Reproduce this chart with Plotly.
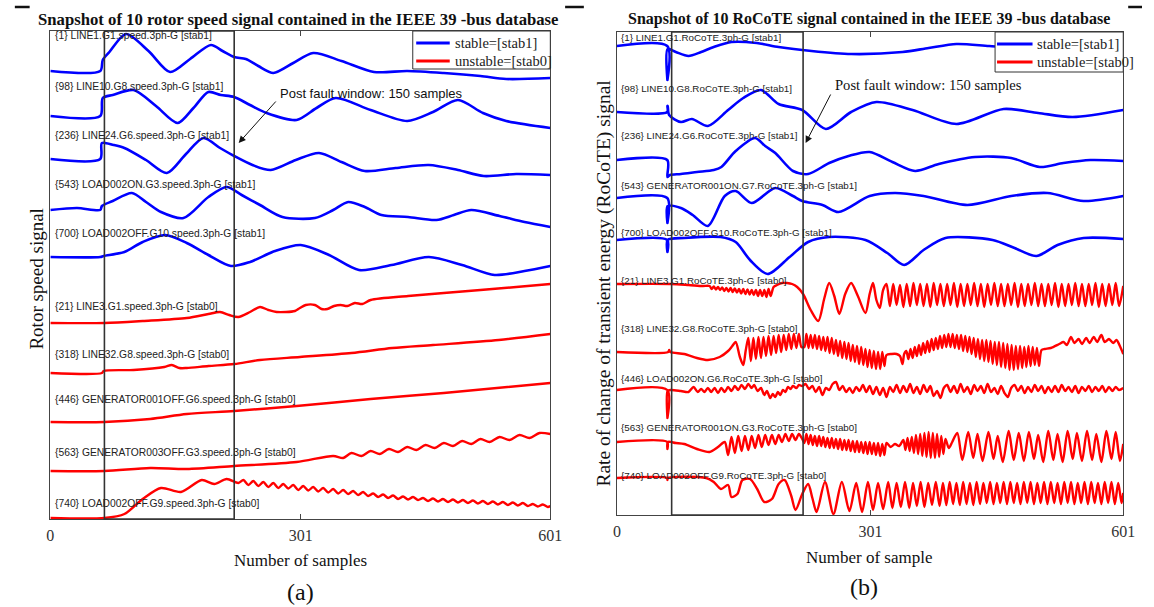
import plotly.graph_objects as go

FIG_W, FIG_H = 1154, 607

# ---------------- shared axis data ----------------
X_TICKS = [0, 301, 601]
WINDOW = [65, 221]          # post-fault window (samples)

# ---------------- panel (a): rotor speed ----------------
labels_a = [
    "{1} LINE1.G1.speed.3ph-G [stab1]",
    "{98} LINE10.G8.speed.3ph-G [stab1]",
    "{236} LINE24.G6.speed.3ph-G [stab1]",
    "{543} LOAD002ON.G3.speed.3ph-G [stab1]",
    "{700} LOAD002OFF.G10.speed.3ph-G [stab1]",
    "{21} LINE3.G1.speed.3ph-G [stab0]",
    "{318} LINE32.G8.speed.3ph-G [stab0]",
    "{446} GENERATOR001OFF.G6.speed.3ph-G [stab0]",
    "{563} GENERATOR003OFF.G3.speed.3ph-G [stab0]",
    "{740} LOAD002OFF.G9.speed.3ph-G [stab0]",
]
stable_a = [1, 1, 1, 1, 1, 0, 0, 0, 0, 0]
offsets_a = [448, 403, 360, 309, 262, 196, 146, 97, 48, 1]   # stacking levels

a_1 = [(0,0),(60,0),(63,11),(71,19),(91,37),(118,20),(144,-1),(168,12),(193,26),(207,20),(221,14),(235,12),
       (250,5),(268,-2),(292,8),(316,18),(350,10),(389,-1),(429,0),(473,-2),(517,-5),(548,-8),(601,-7)]
a_98 = [(0,0),(60,0),(63,18),(75,21),(100,26),(127,10),(153,-7),(172,8),(190,24),(205,21),(221,19),(240,11),
        (260,3),(296,-4),(320,8),(343,18),(385,6),(429,-5),(460,4),(490,16),(520,3),(548,-5),(601,-12)]
a_236 = [(0,0),(60,0),(62,16),(76,14),(89,11),(115,-1),(140,-14),(162,4),(184,21),(204,11),(221,3),(243,-6),
         (265,-11),(295,-1),(323,6),(350,-3),(378,-12),(415,-9),(455,-6),(490,-11),(521,-17),(560,-15),(601,-16)]
a_543 = [(0,0),(32,2),(60,0),(62,4),(75,9),(98,17),(115,8),(133,-2),(160,-8),(190,13),(212,23),(230,15),
         (252,5),(279,-7),(318,-8),(340,0),(358,8),(378,3),(398,-5),(430,-7),(464,-10),(485,-5),(506,0),
         (540,-6),(570,-12),(601,-17)]
a_700 = [(0,0),(60,0),(64,1),(89,5),(111,15),(138,22),(164,14),(190,2),(217,-9),(240,-5),(270,6),(301,12),
         (335,2),(371,-13),(410,-8),(455,0),(495,-8),(534,-18),(570,-14),(601,-9)]
a_21 = [(0,0),(65,0),(111,2),(164,5),(190,9),(204,11),(215,8),(226,6),(240,11),(252,16),(262,13),(272,11),
        (294,12),(300,15),(307,18),(318,18),(326,14),(333,14),(341,17),(349,18),(357,17),(366,20),(375,19),
        (385,23),(430,27),(473,30),(517,33),(560,36),(601,39)]
a_318 = [(0,0),(62,0),(64,2),(100,3),(137,6),(146,8),(155,5),(164,5),(190,7),(221,9),(252,13),(300,16),
         (362,20),(411,25),(460,28),(539,33),(601,39)]
a_446 = [(0,0),(65,0),(120,3),(164,8),(221,11),(296,16),(385,23),(473,29),(601,39)]
a_563 = [(0,0),(65,0),(120,3),(164,2),(221,5),(296,9),(340,15),(352,13),(362,18),(374,15),(385,20),(396,17),
         (407,22),(418,19),(429,24),(440,21),(451,26),(462,23),(473,28),(484,25),(495,30),(506,27),(517,32),
         (528,29),(540,34),(552,31),(564,36),(576,33),(588,38),(601,37)]
a_740 = [(0,0),(65,0),(89,4),(111,19),(133,30),(157,26),(182,38),(197,34),(212,39),(226,35),
         (232,38),(238,33),(244,37),(250,32),(256,36),(262,31),(268,35),(274,30),(280,34),(286,29.5),
         (292,33),(298,28),(304,32),(310,27.5),(316,31),(322,26.5),(328,30),(334,25.5),(340,29),(346,24.5),
         (352,28),(358,24),(364,27),(370,23),(376,26),(382,22),(388,24.5),(394,21),(400,23.5),(406,20),
         (412,22.5),(418,19),(424,21.5),(430,18.5),(436,21),(442,18),(448,20),(454,17),(460,19.5),(466,16.5),
         (472,19),(478,16),(484,18.5),(490,15.5),(496,18),(502,15),(508,17.5),(514,14.5),(520,17),(526,14),
         (532,16.5),(538,13.5),(544,16),(550,13),(556,15.5),(562,12.5),(568,15),(574,12),(580,14),(586,11.5),
         (592,13.5),(598,11),(601,12)]
series_a = [a_1, a_98, a_236, a_543, a_700, a_21, a_318, a_446, a_563, a_740]
label_y_a = [484, 433, 384, 335, 286, 213, 165, 120, 67, 16]

# ---------------- panel (b): RoCoTE ----------------
labels_b = [
    "{1} LINE1.G1.RoCoTE.3ph-G [stab1]",
    "{98} LINE10.G8.RoCoTE.3ph-G [stab1]",
    "{236} LINE24.G6.RoCoTE.3ph-G [stab1]",
    "{543} GENERATOR001ON.G7.RoCoTE.3ph-G [stab1]",
    "{700} LOAD002OFF.G10.RoCoTE.3ph-G [stab1]",
    "{21} LINE3.G1.RoCoTE.3ph-G [stab0]",
    "{318} LINE32.G8.RoCoTE.3ph-G [stab0]",
    "{446} LOAD002ON.G6.RoCoTE.3ph-G [stab0]",
    "{563} GENERATOR001ON.G3.RoCoTE.3ph-G [stab0]",
    "{740} LOAD002OFF.G9.RoCoTE.3ph-G [stab0]",
]
stable_b = [1, 1, 1, 1, 1, 0, 0, 0, 0, 0]
offsets_b = [469, 403, 355, 317, 275, 231, 163, 125, 73, 37]

b_1 = [(0,0),(59.8,0),(60,-34),(60.2,-3),(70,-6),(85,-10),(100,-6),(115,-1),(136,4),(166,3),(192,-1),(231,-5),
       (278,-8),(339,-6),(370,-2),(403,2),(442,0),(511,-4),(601,-1)]
b_98 = [(0,0),(59.8,0),(60,6),(60.3,6),(62,-3),(76,-10),(89,-7),(108,-14),(132,2),(150,14),(171,22),(192,8),
        (220,2),(248,-17),(278,0),(308,10),(351,2),(403,-12),(459,3),(500,-1),(541,-5),(601,2)]
b_236 = [(0,0),(59.8,0),(60,-17),(63,-15),(76,-14),(95,-12),(115,-10),(124,-7),(141,9),(164,22),(176,14),(188,7),
         (209,-11),(227,-14),(252,-3),(275,4),(300,8),(327,-2),(354,-11),(382,-4),(425,3),(468,2),(502,-7),
         (530,-3),(562,0),(601,-1)]
b_543 = [(0,0),(59.8,0),(60,-25),(60.3,-8),(76,-10),(90,-17),(108,-28),(128,2),(141,7),(160,-5),(188,10),(209,2),
         (220,-3),(244,-7),(263,-14),(300,2),(330,5),(364,2),(416,-7),(468,2),(511,5),(554,-3),(601,2)]
b_700 = [(0,0),(59.8,0),(60,-12),(60.2,0),(80,2),(123,3),(141,-2),(158,-20),(179,-34),(205,-17),(227,-2),(252,3),
         (295,0),(321,-13),(341,-25),(364,-10),(390,2),(446,0),(472,-8),(498,-16),(523,-5),(554,2),(601,1)]
b_21 = [(0,0),(64,0),(85,-1),(102,-2),(110,-2),(112.5,-5),(115,-2.5),(117.5,-5.5),(120,-3),(122.5,-6),(125,-3.5),
        (127.5,-7),(130,-4),(132.5,-7.5),(135,-4),(137.5,-8),(140,-4.5),(142.5,-8.5),(145,-5),(147.5,-9.5),
        (150,-5),(152.5,-10),(155,-5.5),(157.5,-10.5),(160,-6),(162.5,-11),(165,-6),(167.5,-12),(170,-6),
        (172.5,-12),(175,-6),(177.5,-13),(180,-5),(182.5,-12),(186,-3),(190,-1),(196,1),(202,1),(208,0),
        (214,-3),(221,-10),(230,-26),(239,-37),(246,-15),(252,1),(258,-12),(264,-30),(271,-10),(278,1),
        (286,-12),(295,-29),(300,-10),(304,1),(308,-16),(312,-24),(316,-6),(320,0),(324,-22),(328,0),(332,-21),
        (336,-1),(340,-23),(344,0),(348,-22),(352,1),(356,-21),(360,0),(364,-22),(368,0),(372,-23),(376,1),
        (380,-21),(384,0),(388,-22),(392,0),(396,-21),(400,1),(404,-23),(408,0),(412,-22),(416,0),(420,-21),
        (424,1),(428,-22),(432,0),(436,-23),(440,0),(444,-21),(448,1),(452,-22),(456,0),(460,-22),(464,0),
        (468,-21),(472,1),(476,-23),(480,0),(484,-22),(488,0),(492,-21),(496,1),(500,-22),(504,0),(508,-22),
        (512,0),(516,-21),(520,1),(524,-23),(528,0),(532,-22),(536,0),(540,-21),(544,1),(548,-22),(552,0),
        (556,-22),(560,0),(564,-21),(568,1),(572,-23),(576,0),(580,-22),(584,0),(588,-21),(592,1),(596,-22),
        (601,-2)]
b_318 = [(0,0),(61,0),(62,2),(63.5,0),(80,-2),(95,-6),(108,-8),(122,-5),(132,1),(137,6),(141,10),(146,-5),
         (150,-13),(153,2),(156,14),(159,-9),(162,14),(165,-7),(168,15),(171,-6),(174,15),(177,-4),(180,16),
         (183,-3),(186,16),(189,-1),(192,17),(195,0),(198,17),(201,2),(204,18),(207,3),(210,18),(213,4),
         (216,18),(219,5),(222.5,5),(225,18),(227.5,4),(230,17),(232.5,4),(235,17),(237.5,3),(240,16),
         (242.5,2),(245,15),(247.5,1),(250,15),(252.5,-1),(255,14),(257.5,-2),(260,12),(262.5,-4),(265,11),
         (267.5,-6),(270,10),(272.5,-7),(275,9),(277.5,-9),(280,7),(282.5,-10),(285,6),(287.5,-12),(290,5),
         (292.5,-13),(295,3),(297.5,-15),(300,2),(302.5,-16),(305,1),(307.5,-17),(310,0),(312.5,-17),(315,0),
         (317.5,-14),(320,-3),(326,-2),(332,-2),(336,-4),(339,-12),(341,-2),(343.5,1),(346,-7),(348.5,3),
         (351,-6),(353.5,5),(356,-4),(358.5,7),(361,-3),(363.5,9),(366,-1),(368.5,11),(371,0),(373.5,13),
         (376,2),(378.5,14),(381,3),(383.5,16),(386,4),(388.5,17),(391,5),(393.5,18),(396,5),(398.5,18),
         (401,4),(403.5,17),(406,3),(408.5,17),(411,1),(413.5,16),(416,0),(418.5,15),(421,-2),(423.5,14),
         (426,-5),(428.5,13),(431,-7),(433.5,12),(436,-9),(438.5,12),(441,-10),(443.5,11),(446,-12),(448.5,10),
         (451,-13),(453.5,10),(456,-15),(458.5,9),(461,-16),(463.5,8),(466,-18),(468.5,7),(471,-18),(473.5,6),
         (476,-17),(478.5,6),(481,-16),(483.5,5),(486,-15),(488.5,6),(491,-14),(493.5,5),(496,-13),(498.5,4),
         (501,-14),(504,2),(508,3),(515,4),(525,8),(530,10),(534,7),(539,15),(543,9),(548,13),(552,8),(557,14),
         (561,9),(566,15),(570,10),(575,17),(579,10),(584,13),(589,9),(593,12),(597,6),(601,-2)]
b_446 = [(0,0),(59.8,0),(60,-28),(60.2,-1),(64,0),(76,-1),(85,-2),(91,3),(96,-2),(100,1),(104,-2),(108,2),
         (112,-2),(116,2),(120,-3),(124,2),(128,-2),(132,3),(136,-1),(140,4),(144,0),(148,5),(152,1),(156,6),
         (160,2),(163,5),(167,-1),(171,2),(175,-5),(178,-1),(182,-8),(185,-4),(188,-7),(191,-2),(194,-5),
         (197,0),(200,-2),(203,3),(206,1),(209,4),(213,2),(216,5),(220,4),(224,6),(228,1),(232,4),(236,-2),
         (240,3),(244,-5),(248,2),(252,0),(256,6),(260,8),(264,0),(268,4),(272,-2),(276,2),(280,-3),(284,3),
         (288,-1),(292,5),(296,-2),(300,4),(304,-4),(308,3),(312,-5),(316,2),(320,-7),(324,3),(328,-2),(332,5),
         (336,-3),(340,4),(344,-2),(348,6),(352,-3),(356,3),(360,-4),(364,5),(368,-2),(372,4),(376,-6),(380,-1),
         (384,-8),(388,2),(392,5),(396,-2),(400,4),(404,-3),(408,6),(412,-2),(416,3),(420,-4),(424,5),(428,-1),
         (432,4),(436,-3),(440,6),(444,-2),(448,2),(452,-4),(456,4),(460,-3),(464,-7),(468,2),(472,5),(476,-1),
         (480,4),(484,-3),(488,3),(492,-2),(496,5),(500,-1),(504,4),(508,-3),(512,3),(516,-2),(520,4),(524,-2),
         (528,5),(532,-1),(536,3),(540,-2),(544,4),(548,-3),(552,3),(556,-1),(560,4),(564,-2),(568,3),(572,-1),
         (576,4),(580,-2),(584,3),(588,-1),(592,3),(596,0),(601,2)]
b_563 = [(0,0),(59.8,0),(60,-7),(60.3,0),(70,-1),(80,-2),(95,-7),(110,-10),(120,-5),(128,0),(132,-13),(136,5),
         (140,-11),(144,6),(148,-9),(152,6),(156,-8),(160,6),(164,-6),(168,7),(172,-5),(176,7),(180,-3),(184,7),
         (188,-2),(192,7),(196,0),(200,8),(204,1),(208,8),(212,2),(216,8),(220,3),(222.5,-1),(225,8),(227.5,-2),
         (230,7),(232.5,-3),(235,6),(237.5,-4),(240,6),(242.5,-4),(245,5),(247.5,-5),(250,4),(252.5,-6),(255,4),
         (257.5,-6),(260,3),(262.5,-7),(265,3),(267.5,-8),(270,2),(272.5,-8),(275,2),(277.5,-9),(280,1),
         (282.5,-10),(285,1),(287.5,-10),(290,0),(292.5,-11),(295,0),(297.5,-12),(300,0),(302.5,-12),(305,-1),
         (307.5,-13),(310,-1),(312.5,-14),(315,-2),(317.5,-13),(320,-1),(325,-5),(330,-2),(335,-4),(340,2),
         (342.5,-8),(345,4),(347.5,-9),(350,5),(352.5,-11),(355,7),(357.5,-12),(360,8),(362.5,-14),(365,9),
         (367.5,-15),(370,10),(372.5,-16),(375,9),(377.5,-16),(380,8),(382.5,-15),(385,6),(387.5,-12),(390,3),
         (394,-6),(398,0),(404,9),(410,-18),(417,10),(423,-16),(428,8),(434,-19),(441,10),(447,-17),(452,6),
         (458,-20),(465,11),(471,-18),(477,9),(483,-19),(489,10),(495,-17),(500,7),(506,-20),(512,11),(518,-18),
         (523,8),(529,-20),(535,11),(541,-17),(546,9),(552,-19),(558,11),(564,-18),(569,8),(575,-20),(581,11),
         (587,-17),(592,10),(597,-19),(601,-2)]
b_740 = [(0,0),(59.8,0),(60,-2),(60.3,0),(106,0),(115,-4),(123.5,-11),(132,-7),(136,-19),(143,-16),(149,-2),
         (158,-1),(166.5,-11),(175,-24),(184,-21),(192,-6),(199,-2),(207,-18),(212,-32),(220,-16),(227,-6),
         (232,-20),(237,-34),(247,-4),(257,-36),(267,-4),(276,-33),(284,-5),(291,-34),(298,-4),(304,-32),
         (310,-5),(316,-31),(322,-4),(327,-30),(332,-5),(337,-29),(342,-4),(347,-30),(351.5,-5),(356,-28),
         (360.5,-4),(365,-29),(369.5,-5),(374,-27),(378.5,-4),(383,-28),(387,-5),(391,-27),(395,-4),(399,-26),
         (403,-5),(407,-27),(411,-4),(415,-26),(419,-5),(423,-27),(427,-4),(431,-26),(435,-5),(439,-25),
         (443,-4),(447,-26),(451,-5),(455,-25),(459,-4),(463,-26),(467,-4),(471,-25),(475,-5),(479,-26),
         (483,-4),(487,-25),(491,-4),(495,-26),(499,-5),(503,-25),(507,-4),(511,-26),(515,-4),(519,-25),
         (523,-5),(527,-26),(531,-4),(535,-25),(539,-4),(543,-26),(547,-5),(551,-25),(555,-4),(559,-26),
         (563,-4),(567,-25),(571,-5),(575,-26),(579,-4),(583,-25),(587,-4),(591,-26),(595,-5),(599,-25),
         (601,-15)]
series_b = [b_1, b_98, b_236, b_543, b_700, b_21, b_318, b_446, b_563, b_740]
label_y_b = [477, 427, 380, 330, 283, 235, 187, 137, 88, 40]

LEGEND_NAMES = ["stable=[stab1]", "unstable=[stab0]"]
BLUE, RED = "#0000FF", "#FF0000"
SERIF, SANS = "Liberation Serif", "Liberation Sans"


def px_x(p):
    return p / FIG_W


def px_y(p):
    return 1 - p / FIG_H


fig = go.Figure()


def add_panel(series, offsets, stable, xa, ya):
    for pts, off, st in zip(series, offsets, stable):
        xs = [p[0] for p in pts]
        ys = [off + p[1] for p in pts]
        fig.add_trace(go.Scatter(
            x=xs, y=ys, mode="lines",
            line=dict(color=BLUE if st else RED, width=2.6 if st else 2.4,
                      shape="spline", smoothing=0.8),
            name=LEGEND_NAMES[0] if st else LEGEND_NAMES[1],
            showlegend=False, xaxis=xa, yaxis=ya, hoverinfo="skip"))


add_panel(series_a, offsets_a, stable_a, "x", "y")
add_panel(series_b, offsets_b, stable_b, "x2", "y2")

axis_common = dict(showline=True, linecolor="#444", linewidth=1, showgrid=False, zeroline=False)
xcommon = dict(axis_common, mirror="ticks", ticks="inside", ticklen=5, tickcolor="#444",
               tickvals=X_TICKS, ticktext=[str(v) for v in X_TICKS], range=[0, 601],
               tickfont=dict(family=SERIF, size=16, color="#333"), ticklabelstandoff=2)
ycommon = dict(axis_common, mirror=True, ticks="", showticklabels=False)

fig.update_layout(
    width=FIG_W, height=FIG_H, margin=dict(l=0, r=0, t=0, b=0),
    paper_bgcolor="white", plot_bgcolor="white", showlegend=False,
    xaxis=dict(xcommon, domain=[px_x(47), px_x(554)], anchor="y"),
    yaxis=dict(ycommon, domain=[px_y(519), px_y(31)], range=[0, 488], anchor="x"),
    xaxis2=dict(xcommon, domain=[px_x(621.5), px_x(1135)], anchor="y2"),
    yaxis2=dict(ycommon, domain=[px_y(515), px_y(32)], range=[0, 483], anchor="x2"),
)

shapes = []
for xr, yr in (("x", "y domain"), ("x2", "y2 domain")):
    shapes.append(dict(type="rect", xref=xr, yref=yr, x0=WINDOW[0], x1=WINDOW[1], y0=0, y1=1,
                       line=dict(color="#333", width=1.6), layer="above"))
for x0, x1 in ((11, 26), (569, 588), (1140, 1154)):
    shapes.append(dict(type="line", xref="paper", yref="paper", x0=px_x(x0), x1=px_x(x1),
                       y0=px_y(7), y1=px_y(7), line=dict(color="#111", width=2.5)))

ann = []
# legend boxes (drawn as shapes + text so entry spacing matches)
legend_boxes = [
    # box x0, x1, y0, y1, line x0, x1, row y's, text x
    (414.5, 554, 31, 69, 418, 452, (43, 61), 455),
    (1005, 1135, 32, 72, 1007, 1043, (44, 62), 1045),
]
for bx0, bx1, by0, by1, lx0, lx1, rows, tx in legend_boxes:
    shapes.append(dict(type="rect", xref="paper", yref="paper", x0=px_x(bx0), x1=px_x(bx1),
                       y0=px_y(by1), y1=px_y(by0), fillcolor="white",
                       line=dict(color="#333", width=1), layer="above"))
    for ry, col, nm in zip(rows, (BLUE, RED), LEGEND_NAMES):
        shapes.append(dict(type="line", xref="paper", yref="paper", x0=px_x(lx0), x1=px_x(lx1),
                           y0=px_y(ry), y1=px_y(ry), line=dict(color=col, width=2.8), layer="above"))
        ann.append(dict(text=nm, x=px_x(tx), y=px_y(ry), xref="paper", yref="paper",
                        xanchor="left", yanchor="middle", showarrow=False,
                        font=dict(family=SERIF, size=14.5, color="#222")))
fig.update_layout(shapes=shapes)

for lbl, yv in zip(labels_a, label_y_a):
    ann.append(dict(text=lbl, x=3.5, y=yv, xref="x", yref="y", xanchor="left", yanchor="middle",
                    showarrow=False, font=dict(family=SANS, size=10.3, color="#222")))
for lbl, yv in zip(labels_b, label_y_b):
    ann.append(dict(text=lbl, x=2, y=yv, xref="x2", yref="y2", xanchor="left", yanchor="middle",
                    showarrow=False, font=dict(family=SANS, size=9.8, color="#222")))


def paper_text(text, px, py, family, size, bold=False, angle=0):
    return dict(text=f"<b>{text}</b>" if bold else text, x=px_x(px), y=px_y(py), xref="paper", yref="paper",
                xanchor="center", yanchor="middle", showarrow=False, textangle=angle,
                font=dict(family=family, size=size, color="#111"))


ann += [
    paper_text("Snapshot of 10 rotor speed signal contained in the IEEE 39 -bus database", 299, 19, SERIF, 16.7, True),
    paper_text("Snapshot of 10 RoCoTE signal contained in the IEEE 39 -bus database", 877, 19, SERIF, 16, True),
    paper_text("Rotor speed signal", 32, 279, SERIF, 19, angle=-90),
    paper_text("Rate of change of transient energy (RoCoTE) signal", 608, 283, SERIF, 19.5, angle=-90),
    paper_text("Number of samples", 301, 560, SERIF, 17),
    paper_text("Number of sample", 878, 557, SERIF, 17),
    paper_text("(a)", 301, 592, SERIF, 24),
    paper_text("(b)", 872, 587, SERIF, 24),
    paper_text("Post fault window: 150 samples", 373, 93, SANS, 13),
    paper_text("Post fault window: 150 samples", 937, 85, SERIF, 14.6),
    dict(text="", x=226.4, y=376, ax=272.6, ay=419, xref="x", yref="y", axref="x", ayref="y",
         showarrow=True, arrowhead=2, arrowsize=1.4, arrowwidth=1, arrowcolor="#111"),
    dict(text="", x=224, y=372, ax=254.6, ay=422, xref="x2", yref="y2", axref="x2", ayref="y2",
         showarrow=True, arrowhead=2, arrowsize=1.4, arrowwidth=1, arrowcolor="#111"),
]
fig.update_layout(annotations=ann)

fig.write_html("out.html")
